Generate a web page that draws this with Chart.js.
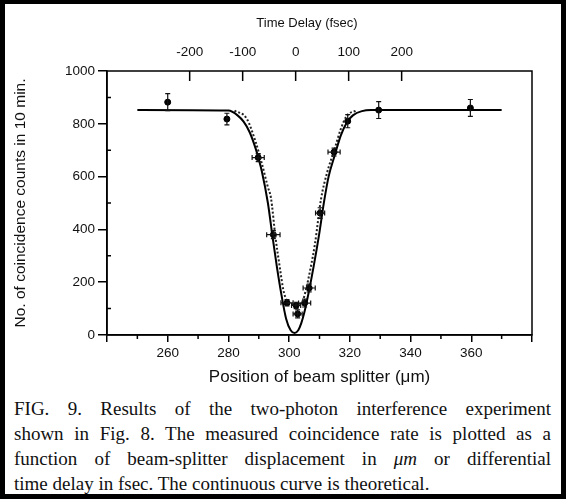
<!DOCTYPE html>
<html>
<head>
<meta charset="utf-8">
<script src="https://cdn.jsdelivr.net/npm/chart.js@4.4.1/dist/chart.umd.min.js"></script>
<style>
  html, body { margin: 0; padding: 0; background: #fff; }
  #frame {
    width: 566px; height: 499px; box-sizing: border-box;
    border: 5px solid #000; border-top-width: 4px;
    background: #fff; overflow: hidden;
  }
  #plot { width: 556px; height: 391px; position: relative; }
  #caption {
    font-family: "Liberation Serif", "Times New Roman", serif;
    font-size: 19px; line-height: 25px; color: #111;
    padding: 1px 10px 0 9px;
  }
  #caption .j { text-align: justify; text-align-last: justify; }
</style>
</head>
<body>
<div id="frame">
  <div id="plot"><canvas id="chart"></canvas></div>
  <div id="caption">
    <div class="j">FIG. 9. Results of the two-photon interference experiment</div>
    <div class="j">shown in Fig. 8. The measured coincidence rate is plotted as a</div>
    <div class="j">function of beam-splitter displacement in <i>μm</i> or differential</div>
    <div>time delay in fsec. The continuous curve is theoretical.</div>
  </div>
</div>
<script>
// measured points (position in um, counts in 10 min) and their error bars
const positionUm = [260, 279.5, 289.8, 294.8, 299.3, 302.3, 302.8, 305.1, 306.6, 310.2, 314.8, 319.3, 329.5, 359.7];
const counts = [882, 818, 672, 380, 122, 112, 80, 121, 178, 462, 693, 810, 852, 860];
const positionErr = [0, 0, 2, 2.2, 2, 1.5, 1.5, 2, 2, 1.5, 2, 0, 0, 0];
const countsErr = [32, 22, 15, 15, 12, 12, 15, 15, 15, 20, 15, 25, 32, 32];

// theoretical curve (solid)
const theoryX = [250, 280, 283, 285, 287, 289, 290, 291, 293, 294.5, 296, 297.5, 299, 300.5, 301.8,
  303, 304, 305, 306.5, 308, 310, 311.5, 313, 315, 317, 319, 321, 324, 327, 370];
const theoryY = [852, 850, 832, 808, 768, 705, 665, 620, 500, 375, 255, 150, 62, 18, 8,
  18, 45, 85, 165, 255, 390, 505, 600, 680, 755, 805, 832, 848, 852, 852];

// dotted curve
const fitX = [282, 286, 289, 291, 293, 294, 295.5, 297, 298.1, 299.3, 300.5, 302, 303.5, 304.5,
  305.5, 307, 308.5, 310.5, 312.5, 315, 317, 319, 322];
const fitY = [850, 820, 730, 650, 560, 520, 370, 250, 170, 130, 118, 115, 118, 130,
  170, 250, 345, 515, 615, 705, 780, 830, 850];

const timeTicks = [-200, -100, 0, 100, 200];
const countMinor = [100, 300, 500, 700, 900];
const positionMinor = [250, 270, 290, 310, 330, 350, 370];

const sans = '"Liberation Sans", Arial, sans-serif';

const decor = {
  id: 'decor',
  afterDatasetsDraw(chart) {
    const ctx = chart.ctx;
    const x = chart.scales.x, y = chart.scales.y;
    ctx.save();
    ctx.strokeStyle = '#111';
    ctx.lineWidth = 1.2;
    const cap = 2.5;
    positionUm.forEach((p, i) => {
      const px = x.getPixelForValue(p);
      const py = y.getPixelForValue(counts[i]);
      if (countsErr[i]) {
        const t = y.getPixelForValue(counts[i] + countsErr[i]);
        const b = y.getPixelForValue(counts[i] - countsErr[i]);
        ctx.beginPath();
        ctx.moveTo(px, t); ctx.lineTo(px, b);
        ctx.moveTo(px - cap, t); ctx.lineTo(px + cap, t);
        ctx.moveTo(px - cap, b); ctx.lineTo(px + cap, b);
        ctx.stroke();
      }
      if (positionErr[i]) {
        const l = x.getPixelForValue(p - positionErr[i]);
        const r = x.getPixelForValue(p + positionErr[i]);
        ctx.beginPath();
        ctx.moveTo(l, py); ctx.lineTo(r, py);
        ctx.moveTo(l, py - cap); ctx.lineTo(l, py + cap);
        ctx.moveTo(r, py - cap); ctx.lineTo(r, py + cap);
        ctx.stroke();
      }
    });
    ctx.restore();
  },
  afterDraw(chart) {
    const {ctx, chartArea: a, scales} = chart;
    ctx.save();
    ctx.strokeStyle = '#000';
    ctx.lineWidth = 1.5;
    ctx.strokeRect(a.left, a.top, a.right - a.left, a.bottom - a.top);
    ctx.beginPath();
    timeTicks.forEach(t => {
      const px = scales.x2.getPixelForValue(t);
      ctx.moveTo(px, a.top); ctx.lineTo(px, a.top + 10);
    });
    countMinor.forEach(v => {
      const py = scales.y.getPixelForValue(v);
      ctx.moveTo(a.left, py); ctx.lineTo(a.left + 4, py);
    });
    positionMinor.forEach(v => {
      const px = scales.x.getPixelForValue(v);
      ctx.moveTo(px, a.bottom); ctx.lineTo(px, a.bottom + 4);
    });
    ctx.stroke();
    ctx.fillStyle = '#111';
    ctx.font = '13px ' + sans;
    ctx.textAlign = 'center';
    ctx.textBaseline = 'middle';
    ctx.fillText('Time Delay (fsec)', 302, 19);
    ctx.restore();
  }
};

new Chart(document.getElementById('chart'), {
  type: 'scatter',
  data: {
    datasets: [
      {
        label: 'theory',
        data: theoryX.map((v, i) => ({x: v, y: theoryY[i]})),
        showLine: true,
        borderColor: '#000',
        borderWidth: 2,
        pointRadius: 0,
        cubicInterpolationMode: 'monotone'
      },
      {
        label: 'fit',
        data: fitX.map((v, i) => ({x: v, y: fitY[i]})),
        showLine: true,
        borderColor: '#222',
        borderWidth: 2,
        borderDash: [2, 2],
        pointRadius: 0,
        cubicInterpolationMode: 'monotone'
      },
      {
        label: 'measured',
        data: positionUm.map((v, i) => ({x: v, y: counts[i]})),
        pointRadius: 3,
        pointBackgroundColor: '#000',
        pointBorderColor: '#000'
      }
    ]
  },
  options: {
    responsive: true,
    maintainAspectRatio: false,
    animation: false,
    layout: { padding: { left: 0, right: 29, top: 0, bottom: 0 } },
    plugins: { legend: { display: false }, tooltip: { enabled: false } },
    scales: {
      x: {
        type: 'linear',
        position: 'bottom',
        min: 240,
        max: 380,
        afterFit: s => { s.height = 60; },
        ticks: {
          stepSize: 20,
          color: '#111',
          font: { family: sans, size: 13.5 },
          padding: 3,
          maxRotation: 0,
          callback: v => (v === 240 || v === 380) ? '' : String(v)
        },
        grid: { display: true, drawOnChartArea: false, tickLength: 7, color: '#000', lineWidth: 1.5 },
        border: { color: '#000', width: 1.5 },
        title: {
          display: true,
          text: 'Position of beam splitter (μm)',
          color: '#111',
          font: { family: sans, size: 17 },
          padding: { top: 0, bottom: 7 }
        }
      },
      x2: {
        type: 'linear',
        position: 'top',
        min: -356,
        max: 446,
        afterFit: s => { s.height = 67; },
        afterBuildTicks: s => { s.ticks = timeTicks.map(v => ({value: v})); },
        ticks: {
          color: '#111',
          font: { family: sans, size: 13.5 },
          padding: 11,
          maxRotation: 0,
          callback: v => String(v)
        },
        grid: { display: false, drawTicks: false },
        border: { display: false }
      },
      y: {
        type: 'linear',
        min: 0,
        max: 1000,
        afterFit: s => { s.width = 102; },
        ticks: {
          stepSize: 200,
          color: '#111',
          font: { family: sans, size: 13.5 },
          padding: 3,
          callback: v => String(v)
        },
        grid: { display: true, drawOnChartArea: false, tickLength: 9, color: '#000', lineWidth: 1.5 },
        border: { color: '#000', width: 1.5 },
        title: {
          display: true,
          text: 'No. of coincidence counts in 10 min.',
          color: '#111',
          font: { family: sans, size: 15.5 },
          padding: { top: 6, bottom: 0 }
        }
      }
    }
  },
  plugins: [decor]
});
</script>
</body>
</html>
